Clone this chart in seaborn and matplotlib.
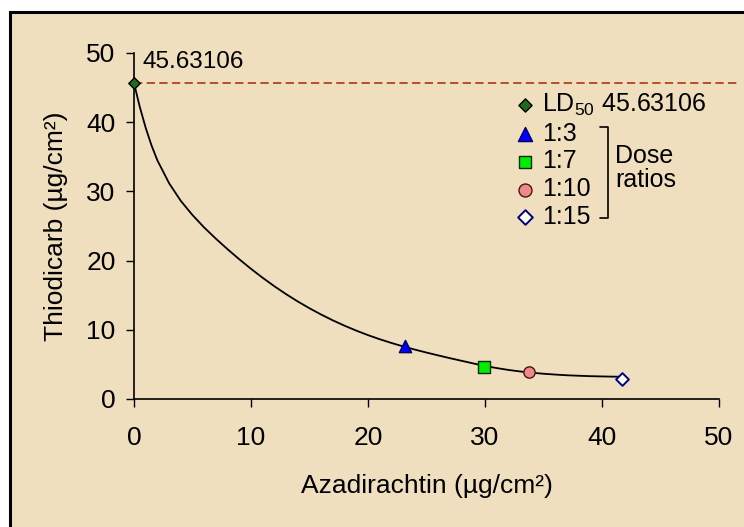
from __future__ import annotations

import matplotlib
import matplotlib.pyplot as plt
import seaborn as sns
from matplotlib.patches import Rectangle

matplotlib.use("Agg")

# LD50 of thiodicarb on its own
LD50_TEXT = "45.63106"
LD50_X = [0.0]
LD50_Y = [45.63106]

# mixtures at the dose ratios (azadirachtin, thiodicarb)
RATIO_LABELS = ["1:3", "1:7", "1:10", "1:15"]
RATIO_X = [23.2, 29.9, 33.8, 41.7]
RATIO_Y = [7.66, 4.6, 3.84, 2.9]

# isobole
CURVE_X = [0, 0.5, 1.0, 1.5, 2, 3, 4, 5, 6, 7, 8, 9, 10, 11, 12, 13, 14, 15,
           16, 17, 18, 19, 20, 21, 22, 23, 24, 25, 26, 27, 28, 29, 30, 31, 32,
           33, 34, 35, 36, 37, 38, 39, 40, 41, 41.6]
CURVE_Y = [45.63, 42.18, 39.18, 36.63, 34.48, 31.18, 28.63, 26.58, 24.78,
           23.16, 21.64, 20.19, 18.81, 17.51, 16.29, 15.15, 14.09, 13.11,
           12.2, 11.36, 10.59, 9.88, 9.23, 8.64, 8.1, 7.6, 7.14, 6.71, 6.3,
           5.9, 5.52, 5.14, 4.77, 4.47, 4.2, 3.98, 3.8, 3.65, 3.53, 3.43,
           3.36, 3.3, 3.26, 3.23, 3.22]

X_TICKS = [0, 10, 20, 30, 40, 50]
Y_TICKS = [0, 10, 20, 30, 40, 50]

RATIO_STYLES = {
    "1:3": dict(marker="^", s=78, color="#0000ff", edgecolor="#000060", linewidth=1.0),
    "1:7": dict(marker="s", s=66, color="#00ee00", edgecolor="#0b2a0b", linewidth=1.0),
    "1:10": dict(marker="o", s=66, color="#f08a8a", edgecolor="#4a1414", linewidth=1.0),
    "1:15": dict(marker="D", s=42, color="white", edgecolor="#000080", linewidth=1.4),
}

PAPER = "#efdfbf"


def main() -> None:
    sns.set_style("ticks")
    plt.rcParams["font.family"] = ["Liberation Sans", "DejaVu Sans"]
    plt.rcParams["text.color"] = "black"
    plt.rcParams["mathtext.fontset"] = "custom"
    plt.rcParams["mathtext.rm"] = "Liberation Sans"
    plt.rcParams["mathtext.it"] = "Liberation Sans:italic"

    fig = plt.figure(figsize=(7.44, 5.27), dpi=100)
    fig.patch.set_facecolor("white")
    # parchment panel with a black frame, running off the right and bottom
    fig.patches.append(Rectangle((9.5 / 744, -0.1), 1.1, 1.1 - 11.5 / 527,
                                 transform=fig.transFigure, facecolor=PAPER,
                                 edgecolor="black", linewidth=2.2, zorder=-10))

    ax = fig.add_axes([134 / 744, 128 / 527, 585 / 744, 346 / 527])
    ax.set_facecolor("none")
    ax.set_zorder(1)

    sns.lineplot(x=CURVE_X, y=CURVE_Y, sort=False, estimator=None,
                 color="black", linewidth=1.3, ax=ax, zorder=2)

    ax.hlines(LD50_Y[0], LD50_X[0], 51.5, colors="#b0451a", linewidth=1.3,
              linestyles=(0, (4.6, 2.4)), clip_on=False, zorder=1)

    sns.scatterplot(x=LD50_X, y=LD50_Y, marker="D", s=34, color="#1f6a1f",
                    edgecolor="black", linewidth=1.0,
                    label="LD$_{\\mathregular{50}}$ " + LD50_TEXT,
                    clip_on=False, zorder=4, ax=ax)
    for label, x, y in zip(RATIO_LABELS, RATIO_X, RATIO_Y):
        sns.scatterplot(x=[x], y=[y], label=label, zorder=4, ax=ax,
                        **RATIO_STYLES[label])

    ax.annotate(LD50_TEXT, xy=(LD50_X[0], LD50_Y[0]), xytext=(6.3, 15),
                textcoords="offset points", ha="left", va="center", fontsize=17.5)

    handles, labels = ax.get_legend_handles_labels()
    ax.legend(handles, labels, loc="upper left", bbox_to_anchor=(0.653, 0.888),
              frameon=False, fontsize=18, handlelength=0.75, handletextpad=0.3,
              labelspacing=0.15, borderpad=0, borderaxespad=0, markerscale=1.15)

    # bracket grouping the dose ratios
    ax.plot([0.797, 0.81, 0.81, 0.797], [0.786, 0.786, 0.523, 0.523],
            transform=ax.transAxes, color="black", linewidth=1.2, clip_on=False)
    ax.text(0.822, 0.668, "Dose\nratios", transform=ax.transAxes, ha="left",
            va="center", fontsize=18, linespacing=1.0)

    ax.set_xlim(0, 50)
    ax.set_ylim(0, 50)
    ax.set_xticks(X_TICKS)
    ax.set_yticks(Y_TICKS)
    ax.tick_params(direction="out", length=5.8, width=1.0, color="black",
                   labelsize=19, labelcolor="black")
    ax.tick_params(axis="y", pad=7.5)
    ax.tick_params(axis="x", pad=13.5)
    sns.despine(ax=ax)
    for side in ("left", "bottom"):
        ax.spines[side].set_color("black")
        ax.spines[side].set_linewidth(1.2)

    ax.set_xlabel("Azadirachtin (µg/cm²)", fontsize=19, color="black")
    ax.set_ylabel("Thiodicarb (µg/cm²)", fontsize=19, color="black")
    ax.xaxis.set_label_coords(0.5, -0.218)
    ax.yaxis.set_label_coords(-0.112, 0.5)

    fig.savefig("out.png", dpi=100)
    plt.close(fig)


if __name__ == "__main__":
    main()
